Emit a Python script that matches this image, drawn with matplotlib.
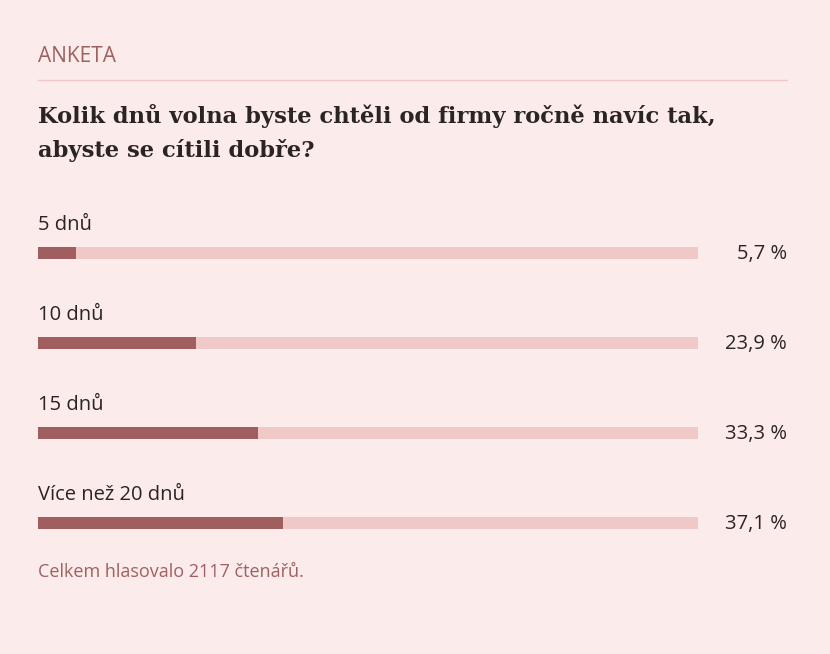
import matplotlib
matplotlib.use("Agg")
import matplotlib.pyplot as plt
import matplotlib.transforms as mtransforms

categories = ["5 dnů", "10 dnů", "15 dnů", "Více než 20 dnů"]
values = [5.7, 23.9, 33.3, 37.1]
value_labels = ["5,7 %", "23,9 %", "33,3 %", "37,1 %"]
header = "ANKETA"
title = "Kolik dnů volna byste chtěli od firmy ročně navíc tak,\nabyste se cítili dobře?"
footer = "Celkem hlasovalo 2117 čtenářů."

BG = "#fcebeb"
FILL = "#a05f5e"
TRACK = "#f0c8c8"
ACCENT = "#a0605f"
DARK = "#2b2424"

W, H = 830, 654
fig = plt.figure(figsize=(W / 100, H / 100), dpi=100)
fig.patch.set_facecolor(BG)

def px(x, y):
    return x / W, 1 - y / H

sans = ["Open Sans", "DejaVu Sans"]

fig.text(*px(38, 56), header, fontsize=15, color=ACCENT, family=sans,
         fontweight="normal", va="center", ha="left")
fig.add_artist(plt.Line2D([38 / W, 787 / W], [1 - 80 / H] * 2, color=TRACK, lw=1))
fig.text(*px(38, 133), title, fontsize=16.3, fontweight="bold", color=DARK,
         family=["DejaVu Serif"], va="center", ha="left", linespacing=1.6)
fig.text(*px(38, 572), footer, fontsize=13, color=ACCENT, family=sans,
         fontweight="normal", va="center", ha="left")

ax = fig.add_axes([38 / W, 0, 660 / W, 1])
ax.set_xlim(0, 100)
ax.set_ylim(H, 0)
ax.axis("off")
ax.patch.set_alpha(0)

ypos = [253 + 90 * i for i in range(len(categories))]
ax.barh(ypos, [100] * len(values), height=12, color=TRACK, left=0)
ax.barh(ypos, values, height=12, color=FILL, left=0)

trans = mtransforms.blended_transform_factory(fig.transFigure, ax.transData)
for y, cat, lab in zip(ypos, categories, value_labels):
    ax.text(0, y - 28, cat, fontsize=14.5, color=DARK, family=sans,
            fontweight="medium", va="center", ha="left")
    ax.text(787 / W, y + 1.5, lab, fontsize=14.5, color=DARK, family=sans,
            fontweight="medium", va="center", ha="right", transform=trans)

fig.savefig("out.png", dpi=100, facecolor=BG)
